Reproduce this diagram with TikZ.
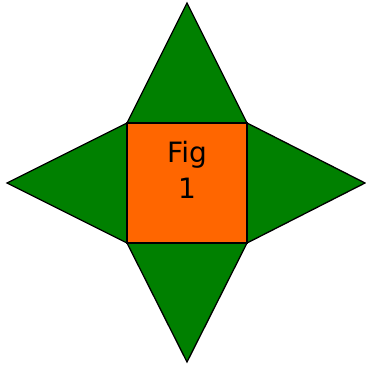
\documentclass[tikz,border=0pt]{standalone}
\usepackage{fontspec}
\setmainfont{DejaVu Sans}
\definecolor{figgreen}{HTML}{008000}
\definecolor{figorange}{HTML}{FF6600}
\begin{document}
\begin{tikzpicture}[x=1pt,y=1pt,
  tri/.style={fill=figgreen,draw=black,line width=1.3pt,line join=miter},
  sq/.style={fill=figorange,draw=black,line width=1.3pt}]
\useasboundingbox (0,0) rectangle (365,366);
\coordinate (A) at (127,243);
\coordinate (B) at (247,243);
\coordinate (C) at (247,123);
\coordinate (D) at (127,123);
\coordinate (T) at (187,363);
\coordinate (Bo) at (187,4);
\coordinate (L) at (7,183);
\coordinate (R) at (365,183);
\draw[tri] (A) -- (T) -- (B) -- cycle;
\draw[tri] (B) -- (R) -- (C) -- cycle;
\draw[tri] (C) -- (Bo) -- (D) -- cycle;
\draw[tri] (D) -- (L) -- (A) -- cycle;
\draw[sq] (D) rectangle (B);
\node[align=center,font=\fontsize{28}{35.6}\selectfont,inner sep=0pt] (lbl) at (187,196) {Fig\\1};
\end{tikzpicture}
\end{document}
